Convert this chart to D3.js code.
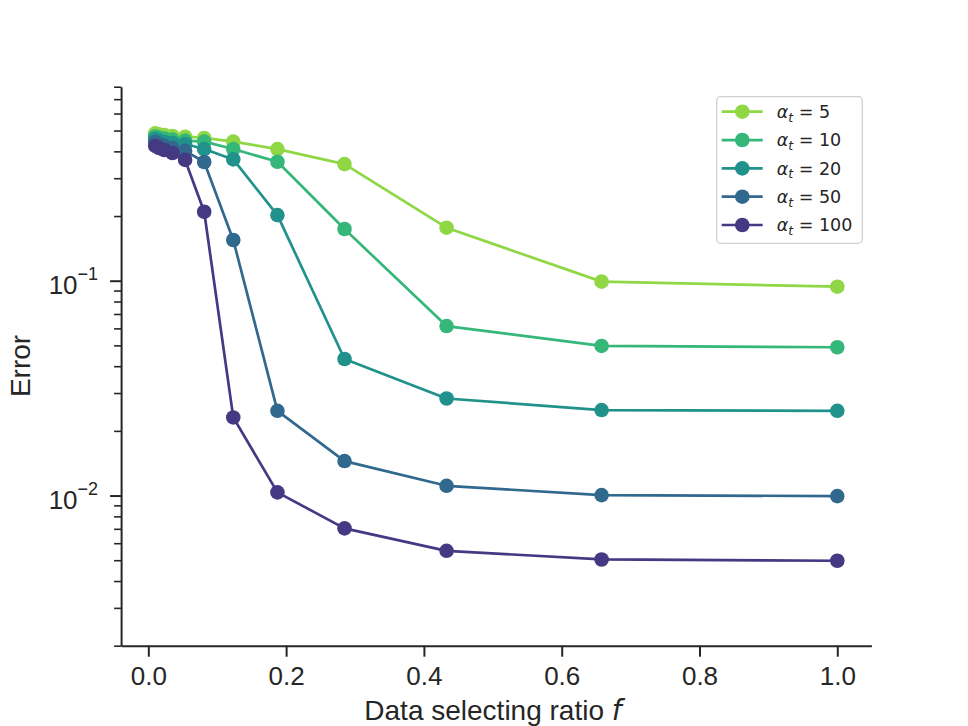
<!DOCTYPE html>
<html>
<head>
<meta charset="utf-8">
<script src="https://cdn.jsdelivr.net/npm/d3@7"></script>
<style>
  html, body { margin: 0; padding: 0; background: #fff; }
  svg { display: block; }
</style>
</head>
<body>
<svg id="chart" width="968" height="726"></svg>
<script>
// ---- data ----
const ratios = [0.01, 0.0152, 0.0231, 0.0351, 0.0534, 0.0811, 0.1233, 0.1874, 0.2848, 0.4329, 0.6579, 1.0];
const alphaLabels = ["5", "10", "20", "50", "100"];
const err5   = [0.485, 0.480, 0.476, 0.472, 0.468, 0.462, 0.444, 0.410, 0.349, 0.1765, 0.0990, 0.0938];
const err10  = [0.469, 0.464, 0.459, 0.454, 0.449, 0.444, 0.410, 0.358, 0.174, 0.0615, 0.0497, 0.0490];
const err20  = [0.457, 0.450, 0.443, 0.437, 0.433, 0.410, 0.367, 0.202, 0.0432, 0.0283, 0.0250, 0.0248];
const err50  = [0.442, 0.433, 0.424, 0.414, 0.402, 0.357, 0.1547, 0.0248, 0.01447, 0.0111, 0.01005, 0.00994];
const err100 = [0.424, 0.415, 0.406, 0.393, 0.365, 0.2094, 0.0231, 0.01035, 0.00703, 0.00553, 0.00504, 0.00497];
const seriesValues = [err5, err10, err20, err50, err100];
const colors = ["#8fd744", "#35b779", "#21918c", "#31688e", "#443983"];
const xTicks = [0.0, 0.2, 0.4, 0.6, 0.8, 1.0];
const xTickLabels = ["0.0", "0.2", "0.4", "0.6", "0.8", "1.0"];
const yMajorTicks = [0.01, 0.1];
const yMajorExp = ["\u22122", "\u22121"];
const yMinorTicks = [0.002, 0.003, 0.004, 0.005, 0.006, 0.007, 0.008, 0.009,
                     0.02, 0.03, 0.04, 0.05, 0.06, 0.07, 0.08, 0.09,
                     0.2, 0.3, 0.4, 0.5, 0.6, 0.7, 0.8];

// ---- layout ----
const svg = d3.select("#chart");
const axisColor = "#262626";
const tickFont = "'Liberation Sans', Arial, Helvetica, sans-serif";

const x = d3.scaleLinear().domain([-0.0395, 1.0495]).range([121.1, 871.4]);
const y = d3.scaleLog().domain([0.002, 0.8]).range([645.7, 86.7]);

// series
const line = d3.line().x((d, i) => x(ratios[i])).y(d => y(d));
const gSeries = svg.append("g");
seriesValues.forEach((vals, si) => {
  const g = gSeries.append("g");
  g.append("path")
    .datum(vals)
    .attr("d", line)
    .attr("fill", "none")
    .attr("stroke", colors[si])
    .attr("stroke-width", 2.7)
    .attr("stroke-linejoin", "round");
  g.selectAll("circle")
    .data(vals)
    .join("circle")
    .attr("cx", (d, i) => x(ratios[i]))
    .attr("cy", d => y(d))
    .attr("r", 7.3)
    .attr("fill", colors[si]);
});

// x axis
const xAxis = d3.axisBottom(x)
  .tickValues(xTicks)
  .tickFormat((d, i) => xTickLabels[i])
  .tickSize(11)
  .tickSizeOuter(0);
const gx = svg.append("g").attr("transform", "translate(0,645.7)").call(xAxis);
gx.select(".domain").attr("stroke", axisColor).attr("stroke-width", 2);
gx.selectAll(".tick line").attr("stroke", axisColor).attr("stroke-width", 2);
gx.selectAll(".tick text")
  .attr("fill", axisColor)
  .attr("font-family", tickFont)
  .attr("font-size", 26)
  .attr("y", 39.5)
  .attr("dy", null);

// y axis minor
const yMinor = d3.axisLeft(y).tickValues(yMinorTicks).tickFormat("").tickSize(7).tickSizeOuter(0);
const gyMinor = svg.append("g").attr("transform", "translate(121.1,0)").call(yMinor);
gyMinor.select(".domain").remove();
gyMinor.selectAll(".tick line").attr("stroke", axisColor).attr("stroke-width", 1.6);

// y axis major
const yAxis = d3.axisLeft(y).tickValues(yMajorTicks).tickFormat("").tickSize(11).tickSizeOuter(0);
const gy = svg.append("g").attr("transform", "translate(121.1,0)").call(yAxis);
gy.select(".domain").attr("stroke", axisColor).attr("stroke-width", 2);
gy.selectAll(".tick line").attr("stroke", axisColor).attr("stroke-width", 2);
gy.selectAll(".tick").each(function(d, i) {
  const t = d3.select(this).append("text")
    .attr("fill", axisColor)
    .attr("font-family", tickFont)
    .attr("text-anchor", "end")
    .attr("x", -23)
    .attr("y", 13);
  t.append("tspan").attr("font-size", 26).text("10");
  t.append("tspan").attr("font-size", 18).attr("dy", -14).text(yMajorExp[i]);
});

// axis labels
svg.append("text")
  .attr("x", 493)
  .attr("y", 720)
  .attr("text-anchor", "middle")
  .attr("fill", axisColor)
  .attr("font-family", tickFont)
  .attr("font-size", 28)
  .call(t => {
    t.append("tspan").text("Data selecting ratio ");
    t.append("tspan").attr("font-family", "'DejaVu Sans', sans-serif").attr("font-style", "italic").text("f");
  });

svg.append("text")
  .attr("transform", "translate(30,366) rotate(-90)")
  .attr("text-anchor", "middle")
  .attr("fill", axisColor)
  .attr("font-family", tickFont)
  .attr("font-size", 28)
  .text("Error");

// legend
const legend = svg.append("g");
legend.append("rect")
  .attr("x", 716.7).attr("y", 96.7)
  .attr("width", 145.6).attr("height", 146.6)
  .attr("rx", 4).attr("ry", 4)
  .attr("fill", "#fff").attr("fill-opacity", 0.8)
  .attr("stroke", "#d0d0d0").attr("stroke-width", 1.3);
const legendRowY = d3.scaleLinear().domain([0, 4]).range([111.7, 225]);
alphaLabels.forEach((lab, i) => {
  const cy = legendRowY(i);
  legend.append("line")
    .attr("x1", 721.7).attr("x2", 762.7)
    .attr("y1", cy).attr("y2", cy)
    .attr("stroke", colors[i]).attr("stroke-width", 2.7);
  legend.append("circle")
    .attr("cx", 742.3).attr("cy", cy).attr("r", 7.3).attr("fill", colors[i]);
  const t = legend.append("text")
    .attr("x", 776.7).attr("y", cy + 6.3)
    .attr("fill", axisColor)
    .attr("font-family", "'DejaVu Sans', sans-serif")
    .attr("font-size", 17.5);
  t.append("tspan").attr("font-style", "italic").text("\u03b1");
  t.append("tspan").attr("font-style", "italic").attr("font-size", 12.5).attr("dy", 3.8).text("t");
  t.append("tspan").attr("dy", -3.8).text(" = " + lab);
});
</script>
</body>
</html>
